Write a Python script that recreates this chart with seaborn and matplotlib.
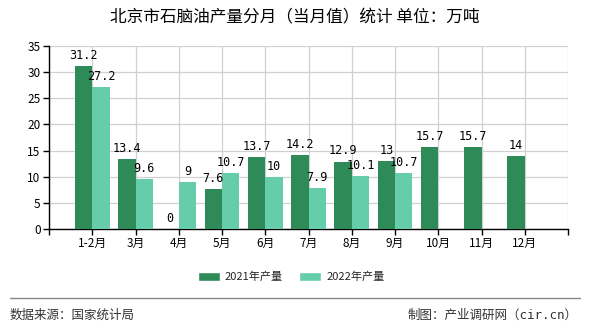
import numpy as np
import pandas as pd
import matplotlib
matplotlib.use("Agg")
import matplotlib.pyplot as plt
import seaborn as sns
from matplotlib.lines import Line2D
from matplotlib.patches import Patch

months = ["1-2月", "3月", "4月", "5月", "6月", "7月", "8月", "9月", "10月", "11月", "12月"]
series_names = ["2021年产量", "2022年产量"]
values_2021 = [31.2, 13.4, 0, 7.6, 13.7, 14.2, 12.9, 13, 15.7, 15.7, 14]
values_2022 = [27.2, 9.6, 9, 10.7, 10, 7.9, 10.1, 10.7, np.nan, np.nan, np.nan]
colors = ["#2E8B57", "#66CDAA"]
y_ticks = [0, 5, 10, 15, 20, 25, 30, 35]

title = "北京市石脑油产量分月（当月值）统计 单位：万吨"
source_text = "数据来源：国家统计局"
credit_text = "制图：产业调研网（cir.cn）"

df = pd.DataFrame({
    "月份": months * 2,
    "系列": [series_names[0]] * len(months) + [series_names[1]] * len(months),
    "值": values_2021 + values_2022,
})

sns.set_theme(style="white")
plt.rcParams["font.family"] = ["Noto Sans CJK SC", "DejaVu Sans"]

fig = plt.figure(figsize=(5.9, 3.3), dpi=100)
ax = fig.add_axes([49 / 590, 1 - 229 / 330, (568 - 49) / 590, (229 - 46) / 330])

sns.barplot(data=df, x="月份", y="值", hue="系列", order=months,
            hue_order=series_names, palette=colors, width=0.8,
            errorbar=None, saturation=1, ax=ax, legend=False, zorder=3,
            linewidth=0, edgecolor="none")

for c in ax.containers:
    ax.bar_label(c, labels=["" if np.isnan(b.get_height()) else f"{b.get_height():g}" for b in c],
                 padding=3, fontsize=8.5, family="DejaVu Sans Mono", color="#000000")

ax.set_xlim(-1, len(months))
ax.set_ylim(0, 35)
ax.set_yticks(y_ticks)
ax.set_xticks(np.arange(-1, len(months) + 1))
ax.set_xticklabels([""] + months + [""])
ax.set_xlabel("")
ax.set_ylabel("")
ax.grid(True, color="#d0d0d0", linewidth=0.9, zorder=0)
ax.set_axisbelow(True)
for s in ["top", "right"]:
    ax.spines[s].set_visible(False)
for s in ["left", "bottom"]:
    ax.spines[s].set_color("#000000")
    ax.spines[s].set_linewidth(1)
ax.tick_params(axis="both", which="both", length=4, width=1, color="#000000",
               labelsize=8.5, labelcolor="#000000", direction="out", pad=2)
ax.tick_params(axis="x", bottom=True)
ax.tick_params(axis="y", left=True)

fig.text(0.5, 1 - 18 / 330, title, ha="center", va="center", fontsize=12, color="#000000")

handles = [Patch(facecolor=colors[0]), Patch(facecolor=colors[1])]
fig.legend(handles, series_names, loc="center", bbox_to_anchor=(291 / 590, 1 - 277 / 330),
           ncol=2, frameon=False, fontsize=8, handlelength=2.0, handleheight=0.8,
           columnspacing=1.45, handletextpad=0.45)

fig.add_artist(Line2D([10 / 590, 580 / 590], [1 - 298 / 330, 1 - 298 / 330],
                      color="#888888", linewidth=1, transform=fig.transFigure))
fig.text(10 / 590, 1 - 315 / 330, source_text, ha="left", va="center", fontsize=9, color="#333333")
fig.text(578 / 590, 1 - 315 / 330, credit_text, ha="right", va="center", fontsize=9,
         color="#333333", family=["DejaVu Sans Mono", "Noto Sans CJK SC"])

fig.savefig("out.png", dpi=100)
